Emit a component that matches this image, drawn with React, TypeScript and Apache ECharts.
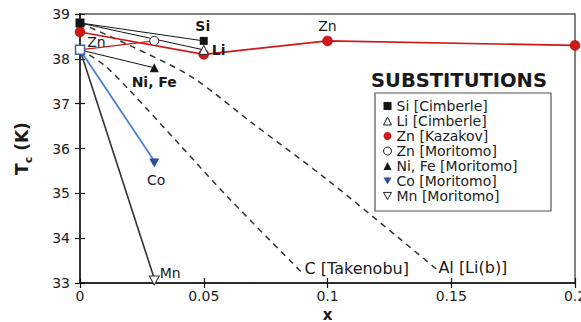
import React, { useEffect, useRef } from "react";
import * as echarts from "echarts";

// x ticks and y ticks
const xTicks = [0, 0.05, 0.1, 0.15, 0.2];
const yTicks = [33, 34, 35, 36, 37, 38, 39];

// series values [x, Tc]
const siData = [[0, 38.8], [0.05, 38.4]];
const liData = [[0, 38.8], [0.05, 38.2]];
const znKazakovData = [[0, 38.6], [0.05, 38.1], [0.1, 38.4], [0.2, 38.3]];
const znMoritomoData = [[0, 38.2], [0.03, 38.4]];
const niFeData = [[0, 38.2], [0.03, 37.8]];
const coData = [[0, 38.2], [0.03, 35.72]];
const mnData = [[0, 38.2], [0.03, 33.1]];
const cTakenobuData = [[0, 38.22], [0.01, 37.85], [0.02, 37.3], [0.04, 36.1], [0.06, 34.9], [0.0895, 33.24]];
const alLiData = [[0, 38.8], [0.02, 38.3], [0.045, 37.6], [0.07, 36.55], [0.1, 35.3], [0.13, 33.95], [0.144, 33.31]];

const legendNames = [
  "Si [Cimberle]",
  "Li [Cimberle]",
  "Zn [Kazakov]",
  "Zn [Moritomo]",
  "Ni, Fe [Moritomo]",
  "Co [Moritomo]",
  "Mn [Moritomo]",
];
const pointLabels = { si: "Si", li: "Li", znK: "Zn", znM: "Zn", niFe: "Ni, Fe", co: "Co", mn: "Mn" };
const lineLabels = { c: "C [Takenobu]", al: "Al [Li(b)]" };

const FONT = "DejaVu Sans";
const DOWN_TRI = "path://M0,0L10,0L5,9Z";
const BLUE = "#4d7fd6";
const CO_BLUE = "#2c4f9e";
const RED = "#d01818";
const BLACK = "#151515";

function lbl(text: string, position: string, offset: number[], bold = false, size = 14) {
  return {
    show: true,
    formatter: text,
    position,
    offset,
    distance: 4,
    color: "#1a1a1a",
    fontFamily: FONT,
    fontSize: size,
    fontWeight: bold ? "bold" : "normal",
  };
}

export default function App() {
  const ref = useRef<HTMLDivElement>(null);
  useEffect(() => {
    document.body.style.margin = "0";
    const chart = echarts.init(ref.current!, null, { renderer: "svg" });
    const xMin = xTicks[0];
    const xMax = xTicks[xTicks.length - 1];
    const yMin = yTicks[0];
    const yMax = yTicks[yTicks.length - 1];
    const fmt = (v: number) => String(+v.toFixed(2));

    const baseX = {
      type: "value",
      min: xMin,
      max: xMax,
      interval: xTicks[1] - xTicks[0],
      splitLine: { show: false },
    };
    const baseY = {
      type: "value",
      min: yMin,
      max: yMax,
      interval: yTicks[1] - yTicks[0],
      splitLine: { show: false },
    };

    const option: any = {
      animation: false,
      grid: {
        left: 80,
        right: 6,
        top: 14,
        bottom: 39,
        show: true,
        containLabel: false,
        outerBoundsMode: "none",
        borderColor: "#5a5a5a",
        borderWidth: 1.5,
        backgroundColor: "transparent",
      },
      title: {
        text: "SUBSTITUTIONS",
        left: 371,
        top: 70,
        padding: 0,
        textStyle: { fontFamily: FONT, fontSize: 19.5, fontWeight: "bold", color: "#1a1a1a" },
      },
      graphic: [
        {
          type: "rect",
          silent: true,
          shape: { x: 375, y: 93, width: 176, height: 118 },
          style: { fill: "#fff", stroke: "#555", lineWidth: 1.2 },
          z: 5,
        },
      ],
      legend: {
        orient: "vertical",
        left: 383,
        top: 99,
        padding: 0,
        itemGap: 1,
        itemWidth: 8,
        itemHeight: 8,
        selectedMode: false,
        z: 10,
        textStyle: { fontFamily: FONT, fontSize: 14, color: "#222", lineHeight: 14 },
        data: [
          { name: legendNames[0], icon: "rect", itemStyle: { color: BLACK } },
          { name: legendNames[1], icon: "triangle", itemStyle: { color: "#fff", borderColor: "#222", borderWidth: 1 } },
          { name: legendNames[2], icon: "circle", itemStyle: { color: RED, borderColor: RED, borderWidth: 0 } },
          { name: legendNames[3], icon: "circle", itemStyle: { color: "#fff", borderColor: "#222", borderWidth: 1 } },
          { name: legendNames[4], icon: "triangle", itemStyle: { color: BLACK } },
          { name: legendNames[5], icon: DOWN_TRI, itemStyle: { color: CO_BLUE } },
          { name: legendNames[6], icon: DOWN_TRI, itemStyle: { color: "#fff", borderColor: "#222", borderWidth: 1 } },
        ],
      },
      xAxis: [
        {
          ...baseX,
          name: "x",
          nameLocation: "middle",
          nameGap: 24,
          nameMoveOverlap: false,
          nameTextStyle: { fontFamily: FONT, fontSize: 15, fontWeight: "bold", color: "#1a1a1a", lineHeight: 15 },
          axisLine: { show: true, lineStyle: { color: "#111", width: 1.5 } },
          axisTick: { show: true, inside: false, length: 5, lineStyle: { color: "#111", width: 1.2 } },
          axisLabel: { formatter: fmt, margin: 6, fontFamily: FONT, fontSize: 14, color: "#222", lineHeight: 14 },
        },
        {
          ...baseX,
          position: "bottom",
          axisLine: { show: false },
          axisTick: { show: true, inside: true, length: 5, lineStyle: { color: "#111", width: 1.2 } },
          axisLabel: { show: false },
        },
      ],
      yAxis: [
        {
          ...baseY,
          name: "{t|T}{c|c}{k| (K)}",
          nameLocation: "middle",
          nameGap: 46,
          nameMoveOverlap: false,
          nameTextStyle: {
            rich: {
              t: { fontFamily: FONT, fontSize: 17, fontWeight: "bold", color: "#1a1a1a", lineHeight: 24, verticalAlign: "middle" },
              c: { fontFamily: FONT, fontSize: 11, fontWeight: "bold", color: "#1a1a1a", lineHeight: 24, verticalAlign: "bottom" },
              k: { fontFamily: FONT, fontSize: 17, fontWeight: "bold", color: "#1a1a1a", lineHeight: 24, verticalAlign: "middle" },
            },
          },
          axisLine: { show: true, lineStyle: { color: "#333", width: 2 } },
          axisTick: { show: true, inside: false, length: 5, lineStyle: { color: "#111", width: 1.2 } },
          axisLabel: { margin: 10, fontFamily: FONT, fontSize: 14, color: "#222" },
        },
        {
          ...baseY,
          position: "left",
          axisLine: { show: false },
          axisTick: { show: true, inside: true, length: 5, lineStyle: { color: "#111", width: 1.2 } },
          axisLabel: { show: false },
        },
      ],
      series: [
        {
          name: "C dashed",
          type: "line",
          smooth: 0.3,
          symbol: "none",
          clip: false,
          data: cTakenobuData,
          lineStyle: { color: "#333", width: 1.5, type: [6, 5] },
          endLabel: {
            show: true,
            formatter: lineLabels.c,
            distance: 3,
            offset: [0, -4],
            fontFamily: FONT,
            fontSize: 16,
            color: "#1a1a1a",
          },
          z: 2,
        },
        {
          name: "Al dashed",
          type: "line",
          smooth: 0.3,
          symbol: "none",
          clip: false,
          data: alLiData,
          lineStyle: { color: "#333", width: 1.5, type: [6, 5] },
          endLabel: {
            show: true,
            formatter: lineLabels.al,
            distance: 2,
            offset: [0, -2],
            fontFamily: FONT,
            fontSize: 16,
            color: "#1a1a1a",
          },
          z: 2,
        },
        {
          name: legendNames[0],
          type: "line",
          clip: false,
          data: siData.map((p, i) => ({
            value: p,
            symbol: "rect",
            symbolSize: i === 0 ? 9 : 8,
            label: i === 1 ? lbl(pointLabels.si, "top", [-1, 0], true) : undefined,
          })),
          itemStyle: { color: BLACK },
          lineStyle: { color: BLACK, width: 1 },
          z: 6,
        },
        {
          name: legendNames[1],
          type: "line",
          clip: false,
          data: liData.map((p, i) => ({
            value: p,
            symbol: i === 0 ? "none" : "triangle",
            symbolSize: 9,
            itemStyle: { color: "#fff", borderColor: "#222", borderWidth: 1 },
            label: i === 1 ? lbl(pointLabels.li, "right", [-1, 0], true) : undefined,
          })),
          itemStyle: { color: BLACK },
          lineStyle: { color: BLACK, width: 1 },
          z: 5,
        },
        {
          name: legendNames[2],
          type: "line",
          clip: false,
          symbol: "circle",
          symbolSize: 10,
          data: znKazakovData.map((p, i) => ({
            value: p,
            label: i === 2 ? lbl(pointLabels.znK, "top", [0, 1]) : undefined,
          })),
          itemStyle: { color: RED, borderColor: "#a00", borderWidth: 0.5 },
          lineStyle: { color: RED, width: 1.6 },
          z: 4,
        },
        {
          name: legendNames[4],
          type: "line",
          clip: false,
          data: niFeData.map((p, i) => ({
            value: p,
            symbol: i === 0 ? "none" : "triangle",
            symbolSize: 9,
            label: i === 1 ? lbl(pointLabels.niFe, "bottom", [0, -1], true) : undefined,
          })),
          itemStyle: { color: BLACK },
          lineStyle: { color: BLACK, width: 1 },
          z: 4,
        },
        {
          name: legendNames[5],
          type: "line",
          clip: false,
          data: coData.map((p, i) => ({
            value: p,
            symbol: i === 0 ? "none" : DOWN_TRI,
            symbolSize: [10, 9],
            symbolOffset: [0, 2],
            label: i === 1 ? lbl(pointLabels.co, "bottom", [2, 1]) : undefined,
          })),
          itemStyle: { color: CO_BLUE },
          lineStyle: { color: BLUE, width: 1.8 },
          z: 4,
        },
        {
          name: legendNames[6],
          type: "line",
          clip: false,
          data: mnData.map((p, i) => ({
            value: p,
            symbol: i === 0 ? "none" : DOWN_TRI,
            symbolSize: [10, 9],
            symbolOffset: [0, 2],
            itemStyle: { color: "#fff", borderColor: "#333", borderWidth: 1 },
            label: i === 1 ? lbl(pointLabels.mn, "right", [-4, -8]) : undefined,
          })),
          itemStyle: { color: "#333" },
          lineStyle: { color: "#333", width: 1.6 },
          z: 4,
        },
        {
          name: legendNames[3],
          type: "line",
          clip: false,
          data: znMoritomoData.map((p, i) => ({
            value: p,
            symbol: i === 0 ? "rect" : "circle",
            symbolSize: 9,
            itemStyle:
              i === 0
                ? { color: "#fff", borderColor: "#3b5fa8", borderWidth: 1.5 }
                : { color: "#fff", borderColor: "#222", borderWidth: 1 },
            label: i === 0 ? lbl(pointLabels.znM, "right", [-2, -8]) : undefined,
          })),
          itemStyle: { color: RED },
          lineStyle: { color: RED, width: 1.2 },
          z: 7,
        },
      ],
    };
    chart.setOption(option);
    return () => chart.dispose();
  }, []);
  return <div ref={ref} style={{ width: 581, height: 322 }} />;
}
